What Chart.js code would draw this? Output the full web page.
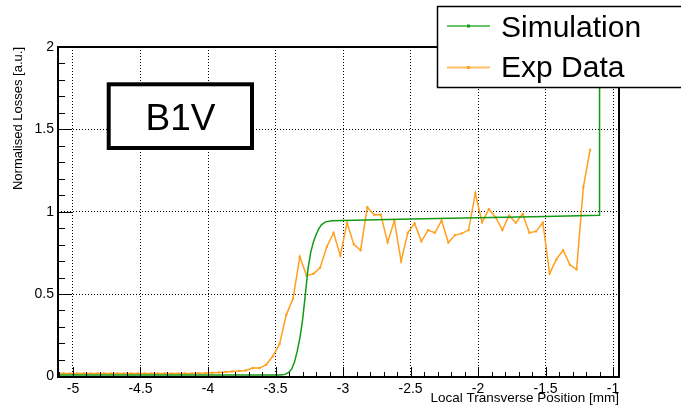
<!DOCTYPE html>
<html><head><meta charset="utf-8">
<script src="https://cdn.jsdelivr.net/npm/chart.js@4/dist/chart.umd.min.js"></script>
<style>html,body{margin:0;padding:0;background:#fff}canvas{display:block}</style>
</head><body>
<canvas id="c" width="681" height="408"></canvas>
<script>
// ---- data ----
const seriesNames = ['Simulation', 'Exp Data'];
const panelLabel = 'B1V';
const xTitle = 'Local Transverse Position [mm]';
const yTitle = 'Normalised Losses [a.u.]';
const xTickValues = [-5, -4.5, -4, -3.5, -3, -2.5, -2, -1.5, -1];
const yTickValues = [0, 0.5, 1, 1.5, 2];

const simX = [-5.12, -3.46, -3.43, -3.40, -3.38, -3.36, -3.34, -3.32, -3.30, -3.28, -3.26, -3.24, -3.22,
              -3.20, -3.18, -3.16, -3.13, -3.08, -3.00, -2.50, -2.00, -1.50, -1.10, -1.10];
const simY = [0.008, 0.008, 0.012, 0.025, 0.045, 0.085, 0.15, 0.23, 0.34, 0.49, 0.65, 0.75, 0.815,
              0.86, 0.895, 0.92, 0.938, 0.945, 0.947, 0.955, 0.963, 0.970, 0.978, 2.2];

const expX = [-5.12,-5.07,-5.02,-4.97,-4.92,-4.87,-4.82,-4.77,-4.72,-4.67,
              -4.62,-4.57,-4.52,-4.47,-4.42,-4.37,-4.32,-4.27,-4.22,-4.17,
              -4.12,-4.07,-4.02,-3.97,-3.92,-3.87,-3.82,-3.77,-3.72,-3.67,
              -3.62,-3.57,-3.52,-3.47,-3.42,-3.37,-3.32,-3.27,-3.22,-3.17,
              -3.12,-3.07,-3.02,-2.97,-2.92,-2.87,-2.82,-2.77,-2.72,-2.67,
              -2.62,-2.57,-2.52,-2.47,-2.42,-2.37,-2.32,-2.27,-2.22,-2.17,
              -2.12,-2.07,-2.02,-1.97,-1.92,-1.87,-1.82,-1.77,-1.72,-1.67,
              -1.62,-1.57,-1.52,-1.47,-1.42,-1.37,-1.32,-1.27,-1.22,-1.17];
const expY = [0.018,0.018,0.018,0.018,0.018,0.018,0.018,0.018,0.018,0.018,
              0.018,0.018,0.018,0.018,0.018,0.018,0.018,0.018,0.018,0.018,
              0.018,0.019,0.020,0.022,0.024,0.027,0.030,0.033,0.036,0.050,
              0.050,0.070,0.122,0.197,0.375,0.472,0.726,0.612,0.622,0.659,
              0.787,0.872,0.734,0.933,0.801,0.766,1.027,0.982,0.982,0.813,
              0.945,0.699,0.872,0.929,0.820,0.888,0.872,0.945,0.813,0.858,
              0.868,0.888,1.112,0.935,1.015,0.966,0.888,0.976,0.933,0.986,
              0.872,0.880,0.933,0.624,0.710,0.766,0.677,0.649,1.149,1.376];

// ---- styling ----
const FONT = '"Liberation Sans", Arial, Helvetica, sans-serif';
const GREEN = 'rgb(20,155,20)';
const ORANGE = 'rgb(255,160,30)';
const GREEN_LEG = 'rgb(105,195,105)';
const ORANGE_LEG = 'rgb(255,190,105)';

const rootFrame = {
  id: 'rootFrame',
  afterDatasetsDraw(chart) {
    const {ctx, chartArea: a, scales: {x, y}} = chart;
    ctx.save();
    ctx.strokeStyle = '#000';
    ctx.lineWidth = 1;
    ctx.beginPath();
    for (let k = -51; k <= -10; k++) {
      const v = k / 10;
      if (v < x.min || v > x.max) continue;
      const px = Math.round(x.getPixelForValue(v)) + 0.5;
      const len = (k % 5 === 0) ? 10 : 5;
      ctx.moveTo(px, a.bottom); ctx.lineTo(px, a.bottom - len);
    }
    for (let k = 0; k <= 20; k++) {
      const v = k / 10;
      const py = Math.round(y.getPixelForValue(v)) + 0.5;
      const len = (k % 5 === 0) ? 14 : 7;
      ctx.moveTo(a.left, py); ctx.lineTo(a.left + len, py);
    }
    ctx.stroke();
    ctx.lineWidth = 2;
    ctx.strokeRect(a.left, a.top, a.right - a.left, a.bottom - a.top);
    ctx.restore();
  },
  afterDraw(chart) {
    const {ctx} = chart;
    ctx.save();
    // panel label box
    ctx.fillStyle = '#fff';
    ctx.fillRect(107, 83, 146, 66);
    ctx.strokeStyle = '#000';
    ctx.lineWidth = 4;
    ctx.strokeRect(108.7, 84.3, 143.3, 63.7);
    ctx.fillStyle = '#000';
    ctx.font = '37px ' + FONT;
    ctx.textAlign = 'center';
    ctx.textBaseline = 'alphabetic';
    ctx.fillText(panelLabel, 180.5, 130);
    // legend
    ctx.fillStyle = '#fff';
    ctx.fillRect(437, 6, 260, 82);
    ctx.strokeStyle = '#000';
    ctx.lineWidth = 1.5;
    ctx.strokeRect(437.5, 6.5, 260, 81);
    const rows = [{y: 26, base: 36.7, c: GREEN_LEG}, {y: 67.5, base: 76.7, c: ORANGE_LEG}];
    chart.data.datasets.forEach((ds, i) => {
      const r = rows[i];
      ctx.strokeStyle = r.c; ctx.lineWidth = 2;
      ctx.beginPath(); ctx.moveTo(447, r.y); ctx.lineTo(490, r.y); ctx.stroke();
      ctx.fillStyle = i === 0 ? GREEN : ORANGE;
      ctx.fillRect(467, r.y - 1.5, 3, 3);
      ctx.fillStyle = '#000';
      ctx.font = '30px ' + FONT;
      ctx.textAlign = 'left';
      ctx.fillText(ds.label, 501, r.base);
    });
    ctx.restore();
  }
};

const pts = (xs, ys) => xs.map((v, i) => ({x: v, y: ys[i]}));

new Chart(document.getElementById('c'), {
  type: 'line',
  data: {
    datasets: [
      {label: seriesNames[0], data: pts(simX, simY), borderColor: GREEN, backgroundColor: GREEN,
       borderWidth: 1.5, pointRadius: 0, tension: 0, fill: false},
      {label: seriesNames[1], data: pts(expX, expY), borderColor: ORANGE, backgroundColor: ORANGE,
       borderWidth: 1.5, pointRadius: 1.5, pointStyle: 'rect', pointBorderWidth: 0, tension: 0, fill: false}
    ]
  },
  options: {
    responsive: false,
    animation: false,
    devicePixelRatio: 1,
    layout: {padding: {top: 47, right: 62, left: 0, bottom: 0}},
    plugins: {legend: {display: false}, tooltip: {enabled: false}},
    scales: {
      x: {
        type: 'linear', min: -5.111, max: -0.956,
        afterBuildTicks: s => { s.ticks = xTickValues.map(v => ({value: v})); },
        afterFit: s => { s.height = 31; },
        grid: {color: '#000', lineWidth: 1, drawTicks: false},
        border: {display: false, dash: [1, 2]},
        ticks: {color: '#000', font: {family: FONT, size: 14}, padding: 4, maxRotation: 0,
                callback: v => String(v)},
        title: {display: true, text: xTitle, align: 'end', color: '#000',
                font: {family: FONT, size: 13.5}, padding: {top: 0, bottom: 2}}
      },
      y: {
        type: 'linear', min: -0.004, max: 2,
        afterBuildTicks: s => { s.ticks = yTickValues.map(v => ({value: v})); },
        afterFit: s => { s.width = 58; },
        grid: {color: '#000', lineWidth: 1, drawTicks: false},
        border: {display: false, dash: [1, 2]},
        ticks: {color: '#000', font: {family: FONT, size: 14}, padding: 4,
                callback: v => String(v)},
        title: {display: true, text: yTitle, align: 'end', color: '#000',
                font: {family: FONT, size: 13}, padding: {top: 11, bottom: 0}}
      }
    }
  },
  plugins: [rootFrame]
});
</script>
</body></html>
